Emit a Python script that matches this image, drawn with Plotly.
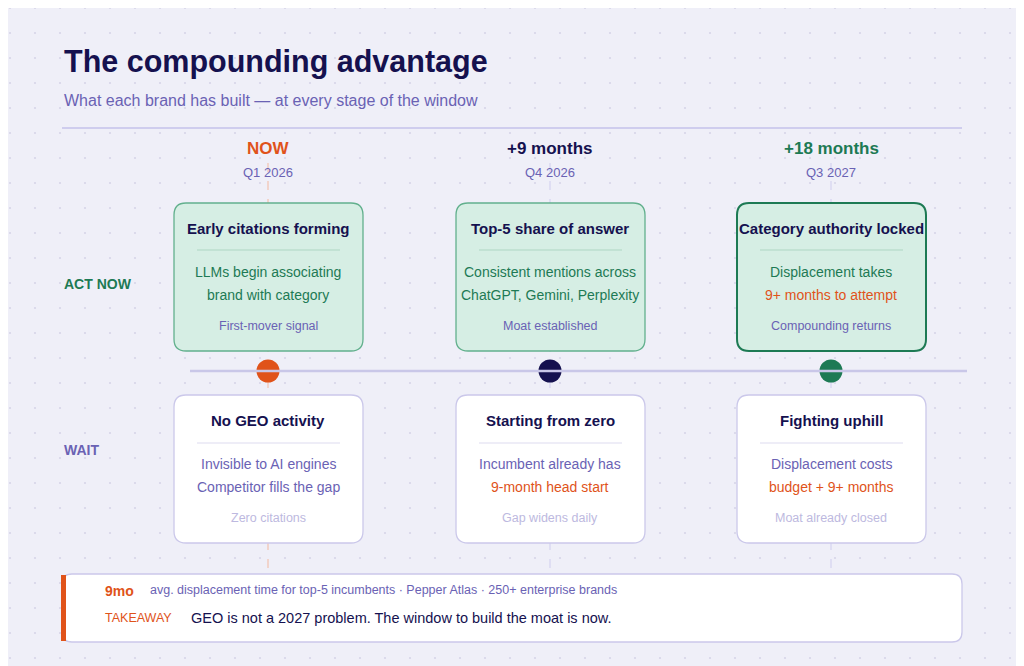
import plotly.graph_objects as go

NAVY = "#15114f"
PURPLE = "#6a62b4"
GREEN = "#1d7a54"
ORANGE = "#e0531a"
LIGHT = "#bdb9e0"

stages = ["NOW", "+9 months", "+18 months"]
quarters = ["Q1 2026", "Q4 2026", "Q3 2027"]
stage_colors = [ORANGE, NAVY, GREEN]
act_titles = ["Early citations forming", "Top-5 share of answer", "Category authority locked"]
act_lines = [["LLMs begin associating", "brand with category"],
             ["Consistent mentions across", "ChatGPT, Gemini, Perplexity"],
             ["Displacement takes", "9+ months to attempt"]]
act_line_colors = [[GREEN, GREEN], [GREEN, GREEN], [GREEN, ORANGE]]
act_notes = ["First-mover signal", "Moat established", "Compounding returns"]
wait_titles = ["No GEO activity", "Starting from zero", "Fighting uphill"]
wait_lines = [["Invisible to AI engines", "Competitor fills the gap"],
              ["Incumbent already has", "9-month head start"],
              ["Displacement costs", "budget + 9+ months"]]
wait_line_colors = [[PURPLE, PURPLE], [PURPLE, ORANGE], [PURPLE, ORANGE]]
wait_notes = ["Zero citations", "Gap widens daily", "Moat already closed"]

centers = [268, 550, 831]


def rrect(x0, y0, x1, y1, r):
    return (f"M{x0+r},{y0} L{x1-r},{y0} Q{x1},{y0} {x1},{y0+r} L{x1},{y1-r} "
            f"Q{x1},{y1} {x1-r},{y1} L{x0+r},{y1} Q{x0},{y1} {x0},{y1-r} "
            f"L{x0},{y0+r} Q{x0},{y0} {x0+r},{y0} Z")


fig = go.Figure()
shapes = []
ann = []


def text(x, y, s, color, size, bold=False, xanchor="center", family="Liberation Sans"):
    ann.append(dict(x=x, y=y, text=f"<b>{s}</b>" if bold else s, showarrow=False,
                    xanchor=xanchor, yanchor="middle",
                    font=dict(color=color, size=size, family=family)))


# background panel
shapes.append(dict(type="path", path=rrect(0, 0, 1060, 700, 30),
                   fillcolor="#efeff8", line_width=0, layer="below"))

# dot grid
dx, dy = [], []
for gx in range(10, 1040, 25):
    for gy in range(8, 680, 25):
        dx.append(gx)
        dy.append(gy)
fig.add_trace(go.Scatter(x=dx, y=dy, mode="markers", hoverinfo="skip",
                         marker=dict(size=2.2, color="#d6d5e8")))

text(62, 61, "The compounding advantage", NAVY, 30.5, bold=True, xanchor="left")
text(62, 100, "What each brand has built — at every stage of the window", PURPLE, 16, xanchor="left")
shapes.append(dict(type="line", x0=62, x1=962, y0=128, y1=128, line=dict(color="#cfcdee", width=2)))

text(62, 284, "ACT NOW", GREEN, 14, bold=True, xanchor="left")
text(62, 450, "WAIT", PURPLE, 14, bold=True, xanchor="left")

shapes.append(dict(type="line", x0=190, x1=967, y0=371, y1=371, line=dict(color="#c9c7e8", width=2.5)))

for i, cx in enumerate(centers):
    shapes.append(dict(type="line", x0=cx, x1=cx, y0=163, y1=575, layer="below",
                       line=dict(color="#f3b9a0" if i == 0 else "#cfcdee", width=1, dash="dash")))
    text(cx, 148, stages[i], stage_colors[i], 17, bold=True)
    text(cx, 172, quarters[i], PURPLE, 13)
    # act card
    border = GREEN if i == 2 else "#62b08d"
    shapes.append(dict(type="path", path=rrect(cx - 94, 203, cx + 95, 351, 12),
                       fillcolor="#d6eee4", line=dict(color=border, width=2 if i == 2 else 1.3)))
    text(cx, 228, act_titles[i], NAVY, 15, bold=True)
    shapes.append(dict(type="line", x0=cx - 71, x1=cx + 72, y0=250, y1=250, line=dict(color="#aed6c3", width=1)))
    for j, ln in enumerate(act_lines[i]):
        text(cx, 272 + 23 * j, ln, act_line_colors[i][j], 14)
    text(cx, 326, act_notes[i], PURPLE, 12.5)
    # wait card
    shapes.append(dict(type="path", path=rrect(cx - 94, 395, cx + 95, 543, 12),
                       fillcolor="white", line=dict(color="#cbc8ea", width=1.3)))
    text(cx, 420, wait_titles[i], NAVY, 15, bold=True)
    shapes.append(dict(type="line", x0=cx - 71, x1=cx + 72, y0=443, y1=443, line=dict(color="#dddbef", width=1)))
    for j, ln in enumerate(wait_lines[i]):
        text(cx, 464 + 23 * j, ln, wait_line_colors[i][j], 14)
    text(cx, 518, wait_notes[i], LIGHT, 12.5)

fig.add_trace(go.Scatter(x=centers, y=[371] * 3, mode="markers", hoverinfo="skip",
                         marker=dict(size=23, color=stage_colors, line=dict(width=0))))

# takeaway box
shapes.append(dict(type="path", path=rrect(62, 574, 962, 642, 10),
                   fillcolor="white", line=dict(color="#cbc8ea", width=1.3)))
shapes.append(dict(type="rect", x0=61, x1=66, y0=575, y1=641, fillcolor=ORANGE, line_width=0))
text(103, 591, "9mo", ORANGE, 14, bold=True, xanchor="left")
text(148, 590, "avg. displacement time for top-5 incumbents · Pepper Atlas · 250+ enterprise brands",
     PURPLE, 12.5, xanchor="left")
text(103, 618, "TAKEAWAY", ORANGE, 12.5, xanchor="left")
text(189, 618, "GEO is not a 2027 problem. The window to build the moat is now.", NAVY, 14.5, xanchor="left")

# the page body adds an 8px offset, so the ranges start at 8
fig.update_layout(width=1024, height=666, margin=dict(l=0, r=0, t=0, b=0),
                  paper_bgcolor="white", plot_bgcolor="rgba(0,0,0,0)", showlegend=False,
                  shapes=shapes, annotations=ann,
                  xaxis=dict(range=[8, 1032], visible=False, fixedrange=True),
                  yaxis=dict(range=[674, 8], visible=False, fixedrange=True))
fig.write_html("out.html", config={"displayModeBar": False})
